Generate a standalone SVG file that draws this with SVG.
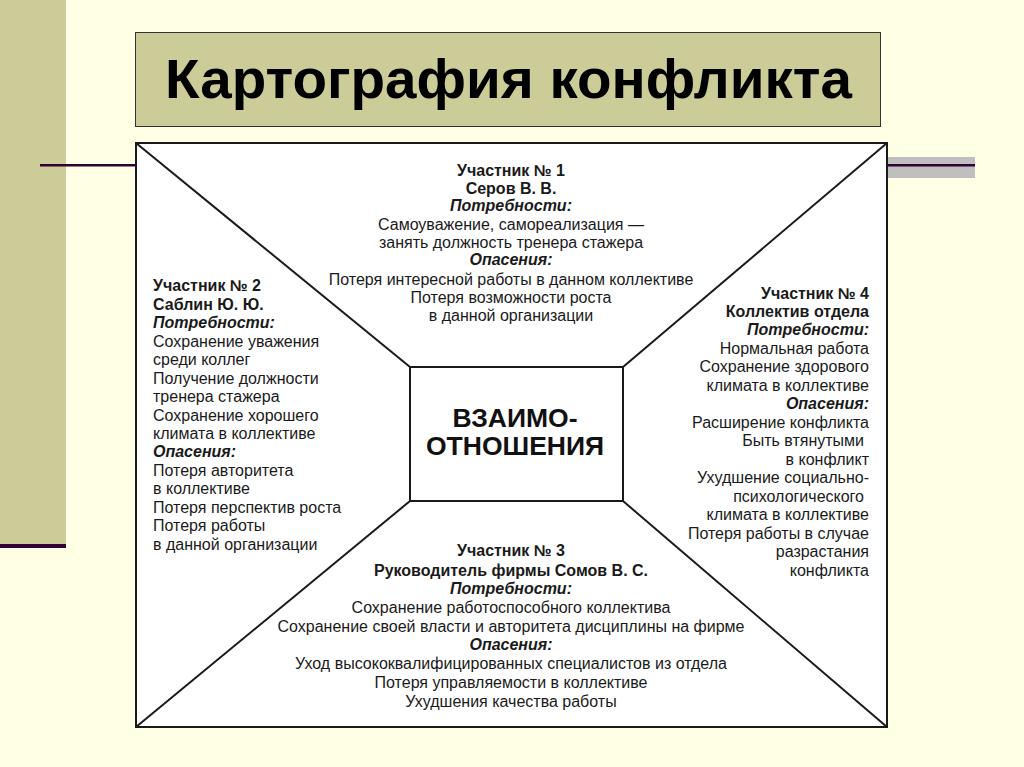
<svg xmlns="http://www.w3.org/2000/svg" width="1024" height="767" viewBox="0 0 1024 767">
<style>
.t{font-family:"Liberation Sans",Arial,sans-serif;font-size:16px;fill:#1a1a1a}
.b{font-weight:bold}
.i{font-weight:bold;font-style:italic}
.c{text-anchor:middle}
.r{text-anchor:end}
.ln{stroke:#1a1a1a;stroke-width:2;fill:none}
</style>
<rect x="0" y="0" width="1024" height="767" fill="#FFFFE6"/>
<rect x="0" y="0" width="66" height="545" fill="#CCCC99"/>
<rect x="0" y="544" width="66" height="4" fill="#330033"/>
<rect x="887" y="157" width="88" height="21" fill="#BFBFBF"/>
<rect x="40" y="164" width="935" height="2.5" fill="#330033"/>
<g id="title">
<rect x="135.5" y="32.5" width="745" height="94" fill="#CCCC99" stroke="#333" stroke-width="1"/>
<text x="508.5" y="98" font-family="Liberation Sans,Arial,sans-serif" font-size="55" font-weight="bold" text-anchor="middle" fill="#000" textLength="687" lengthAdjust="spacingAndGlyphs">Картография конфликта</text>
</g>
<g id="frame">
<rect x="136" y="143" width="751" height="584" fill="#fff" stroke="#1a1a1a" stroke-width="2"/>
</g>
<g id="connectors">
<line class="ln" x1="136" y1="143" x2="410" y2="367"/>
<line class="ln" x1="887" y1="143" x2="623" y2="367"/>
<line class="ln" x1="136" y1="727" x2="410" y2="501"/>
<line class="ln" x1="887" y1="727" x2="623" y2="501"/>
</g>
<g id="center">
<rect x="410" y="367" width="213" height="134" fill="#fff" stroke="#1a1a1a" stroke-width="2"/>
<text x="515" y="427" font-family="Liberation Sans,Arial,sans-serif" font-size="26.5" font-weight="bold" text-anchor="middle" fill="#111">ВЗАИМО-</text>
<text x="515" y="455" font-family="Liberation Sans,Arial,sans-serif" font-size="26.5" font-weight="bold" text-anchor="middle" fill="#111">ОТНОШЕНИЯ</text>
</g>
<g id="participant1">
<text x="511" y="176" class="t c b">Участник № 1</text>
<text x="511" y="194" class="t c b">Серов В. В.</text>
<text x="511" y="211" class="t c i">Потребности:</text>
<text x="511" y="230" class="t c">Самоуважение, самореализация —</text>
<text x="511" y="248" class="t c">занять должность тренера стажера</text>
<text x="511" y="265" class="t c i">Опасения:</text>
<text x="511" y="285" class="t c">Потеря интересной работы в данном коллективе</text>
<text x="511" y="303" class="t c">Потеря возможности роста</text>
<text x="511" y="321" class="t c">в данной организации</text>
</g>
<g id="participant2">
<text x="153" y="291" class="t b">Участник № 2</text>
<text x="153" y="310" class="t b">Саблин Ю. Ю.</text>
<text x="153" y="328" class="t i">Потребности:</text>
<text x="153" y="347" class="t">Сохранение уважения</text>
<text x="153" y="365" class="t">среди коллег</text>
<text x="153" y="384" class="t">Получение должности</text>
<text x="153" y="402" class="t">тренера стажера</text>
<text x="153" y="421" class="t">Сохранение хорошего</text>
<text x="153" y="439" class="t">климата в коллективе</text>
<text x="153" y="457" class="t i">Опасения:</text>
<text x="153" y="476" class="t">Потеря авторитета</text>
<text x="153" y="494" class="t">в коллективе</text>
<text x="153" y="513" class="t">Потеря перспектив роста</text>
<text x="153" y="531" class="t">Потеря работы</text>
<text x="153" y="550" class="t">в данной организации</text>
</g>
<g id="participant4">
<text x="869" y="299" class="t r b">Участник № 4</text>
<text x="869" y="317" class="t r b">Коллектив отдела</text>
<text x="869" y="335" class="t r i">Потребности:</text>
<text x="869" y="354" class="t r">Нормальная работа</text>
<text x="869" y="372" class="t r">Сохранение здорового</text>
<text x="869" y="391" class="t r">климата в коллективе</text>
<text x="869" y="409" class="t r i">Опасения:</text>
<text x="869" y="428" class="t r">Расширение конфликта</text>
<text x="864" y="446" class="t r">Быть втянутыми</text>
<text x="869" y="465" class="t r">в конфликт</text>
<text x="869" y="483" class="t r">Ухудшение социально-</text>
<text x="864" y="502" class="t r">психологического</text>
<text x="869" y="520" class="t r">климата в коллективе</text>
<text x="869" y="539" class="t r">Потеря работы в случае</text>
<text x="869" y="557" class="t r">разрастания</text>
<text x="869" y="576" class="t r">конфликта</text>
</g>
<g id="participant3">
<text x="511" y="556" class="t c b">Участник № 3</text>
<text x="511" y="576" class="t c b">Руководитель фирмы Сомов В. С.</text>
<text x="511" y="594" class="t c i">Потребности:</text>
<text x="511" y="613" class="t c">Сохранение работоспособного коллектива</text>
<text x="511" y="632" class="t c">Сохранение своей власти и авторитета дисциплины на фирме</text>
<text x="511" y="650" class="t c i">Опасения:</text>
<text x="511" y="669" class="t c">Уход высококвалифицированных специалистов из отдела</text>
<text x="511" y="688" class="t c">Потеря управляемости в коллективе</text>
<text x="511" y="707" class="t c">Ухудшения качества работы</text>
</g>
</svg>
